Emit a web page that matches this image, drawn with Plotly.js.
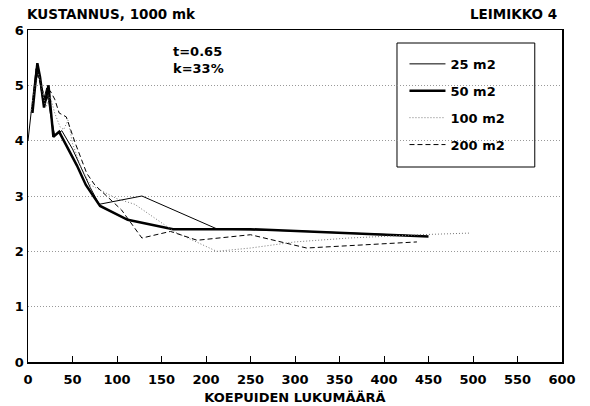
<!DOCTYPE html>
<html>
<head>
<meta charset="utf-8">
<script src="https://cdn.plot.ly/plotly-3.0.1.min.js"></script>
<style>html,body{margin:0;padding:0;background:#fff;}#chart{width:590px;height:406px;}</style>
</head>
<body>
<div id="chart"></div>
<script>
const seriesNames = ["25 m2", "50 m2", "100 m2", "200 m2"];

const x25 = [0, 6, 9, 13, 17, 21, 25, 30, 38, 50, 60, 70, 80, 128, 213, 300, 440];
const y25 = [4.0, 4.9, 5.3, 5.1, 4.7, 4.95, 4.5, 4.1, 4.18, 3.85, 3.5, 3.15, 2.85, 3.0, 2.4, 2.37, 2.28];

const x50 = [5, 10.5, 13.5, 18, 23, 28.5, 35, 45, 55, 65, 81, 112, 163, 250, 350, 450];
const y50 = [4.5, 5.4, 5.15, 4.6, 5.0, 4.07, 4.16, 3.85, 3.55, 3.2, 2.82, 2.57, 2.4, 2.4, 2.33, 2.27];

const x100 = [3, 8, 12, 16, 20, 25, 30, 36, 40, 45, 50, 60, 70, 82, 100, 120, 137, 165, 212, 250, 300, 360, 440, 497];
const y100 = [4.5, 5.0, 5.2, 4.9, 4.6, 4.8, 4.5, 4.25, 4.2, 4.37, 3.95, 3.5, 3.2, 3.1, 2.95, 2.85, 2.66, 2.35, 2.0, 2.06, 2.17, 2.24, 2.3, 2.33];

const x200 = [5, 10, 15, 20, 25, 30, 35, 43, 53, 66, 75, 84, 105, 128, 160, 190, 250, 313, 437];
const y200 = [4.6, 5.2, 5.0, 4.7, 4.9, 4.75, 4.5, 4.43, 3.96, 3.41, 3.2, 3.06, 2.75, 2.24, 2.36, 2.2, 2.3, 2.06, 2.17];

const xTicks = [0, 50, 100, 150, 200, 250, 300, 350, 400, 450, 500, 550, 600];
const yTicks = [0, 1, 2, 3, 4, 5, 6];

const FONT = "DejaVu Sans, Verdana, sans-serif";
const F13 = {family: FONT, size: 13, color: "#000", weight: "bold"};

const traces = [
  {x: x25, y: y25, name: seriesNames[0], mode: "lines", line: {color: "#000", width: 1}, legendgroup: "a"},
  {x: x50, y: y50, name: seriesNames[1], mode: "lines", line: {color: "#000", width: 2.5}, legendgroup: "b"},
  {x: x100, y: y100, name: seriesNames[2], mode: "lines", line: {color: "#777", width: 1, dash: "1px,2px"}, legendgroup: "c"},
  {x: x200, y: y200, name: seriesNames[3], mode: "lines", line: {color: "#000", width: 1, dash: "5px,3px"}, legendgroup: "d"}
];

const layout = {
  width: 590, height: 406,
  margin: {l: 28, r: 28, t: 30, b: 44, pad: 0},
  paper_bgcolor: "#fff", plot_bgcolor: "#fff",
  font: F13,
  showlegend: true,
  legend: {
    x: 0.705, y: 0.943, xanchor: "left", yanchor: "top",
    bgcolor: "rgba(0,0,0,0)", borderwidth: 0,
    font: F13,
    tracegroupgap: 7, itemwidth: 36
  },
  xaxis: {
    range: [0, 600], tickvals: xTicks, ticktext: xTicks.map(String),
    ticks: "inside", ticklen: 6, tickcolor: "#000", tickwidth: 1,
    showline: true, linecolor: "#000", linewidth: 1.5, mirror: true,
    showgrid: false, zeroline: false,
    tickfont: F13, ticklabelstandoff: 5,
    title: {text: "KOEPUIDEN LUKUMÄÄRÄ", font: F13, standoff: 7}
  },
  yaxis: {
    range: [0, 6], tickvals: yTicks, ticktext: yTicks.map(String),
    ticks: "", showline: true, linecolor: "#000", linewidth: 1.5, mirror: true,
    showgrid: true, gridcolor: "#999", griddash: "1px,2px", gridwidth: 1,
    zeroline: false,
    tickfont: F13
  },
  shapes: [
    {type: "rect", xref: "paper", yref: "paper", x0: 0.691, x1: 0.949, y0: (362-167)/332, y1: (362-43)/332,
     line: {color: "#000", width: 1}, fillcolor: "rgba(255,255,255,1)", layer: "below"}
  ],
  annotations: [
    {text: "KUSTANNUS, 1000 mk", xref: "paper", yref: "paper", x: -0.005, y: 1.048, xanchor: "left", yanchor: "middle", showarrow: false,
     font: {family: FONT, size: 13.5, color: "#000", weight: "bold"}},
    {text: "LEIMIKKO 4", xref: "paper", yref: "paper", x: 0.995, y: 1.048, xanchor: "right", yanchor: "middle", showarrow: false,
     font: {family: FONT, size: 13.5, color: "#000", weight: "bold"}},
    {text: "t=0.65<br>k=33%", xref: "paper", yref: "paper", x: (198-28)/534, y: (362-60)/332, xanchor: "center", yanchor: "middle", showarrow: false,
     align: "left", font: F13}
  ]
};

Plotly.newPlot("chart", traces, layout, {staticPlot: true, displayModeBar: false});
</script>
</body>
</html>
